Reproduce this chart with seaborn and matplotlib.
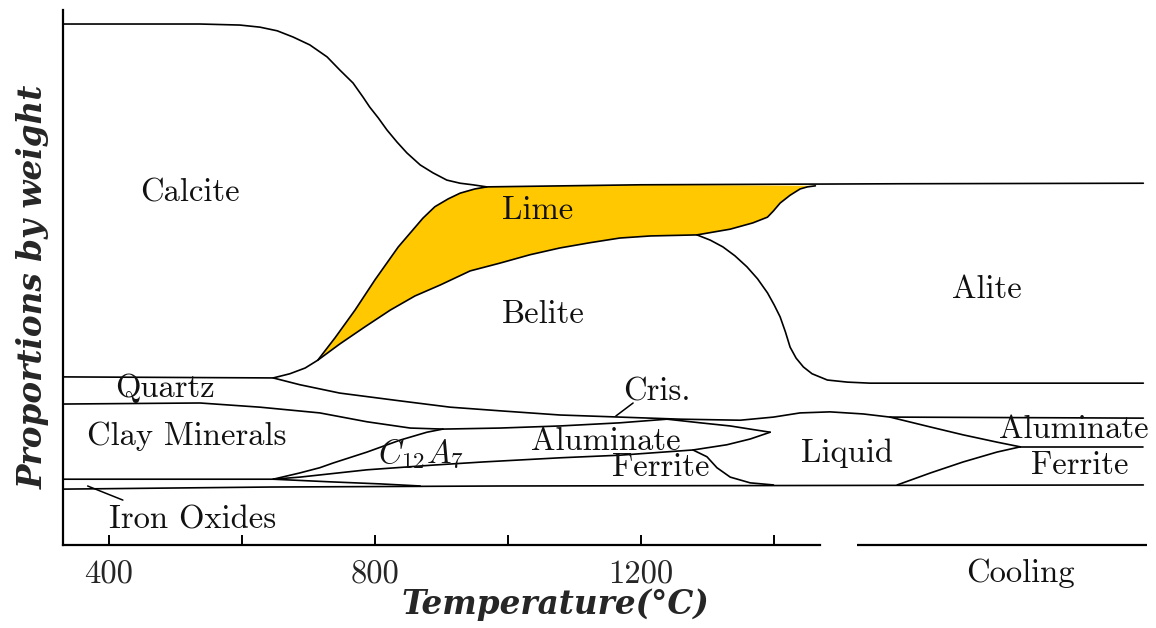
import numpy as np
import matplotlib
matplotlib.use("Agg")
import matplotlib.pyplot as plt
import seaborn as sns

# ---- phase boundaries: temperature (deg C, the cooling stage continues past 1500) vs. cumulative weight share (%) ----
calcite_top_T = [331, 537, 597, 627, 653, 677, 702, 728, 747, 767, 782, 792, 805, 818, 833, 848, 868, 887, 908, 928, 947, 968, 1199, 1589, 1955]
calcite_top_p = [99.8, 99.8, 99.6, 99.2, 98.5, 97.3, 95.8, 93.5, 91.0, 88.5, 85.8, 83.9, 81.8, 79.5, 77.2, 75.1, 72.8, 71.3, 69.9, 69.3, 69.0, 68.6, 69.0, 69.2, 69.3]

lime_outer_T = [647, 672, 695, 714, 740, 770, 800, 835, 872, 890, 910, 928, 950, 968]
lime_outer_p = [32.0, 32.8, 33.9, 35.4, 39.7, 45.0, 50.8, 57.1, 62.6, 64.8, 66.3, 67.4, 68.2, 68.6]

lime_inner_T = [714, 747, 785, 823, 860, 898, 943, 988, 1033, 1078, 1123, 1168, 1214, 1284, 1334, 1368, 1390, 1399, 1409, 1424, 1439, 1450, 1462]
lime_inner_p = [35.4, 38.5, 41.8, 45.0, 47.7, 49.8, 52.5, 54.0, 55.6, 56.9, 57.9, 58.8, 59.2, 59.4, 60.5, 61.7, 62.8, 64.0, 65.5, 67.0, 68.2, 68.6, 68.8]

alite_low_T = [1284, 1304, 1323, 1341, 1359, 1375, 1390, 1400, 1409, 1417, 1424, 1433, 1444, 1457, 1480, 1510, 1544, 1955]
alite_low_p = [59.4, 58.4, 57.1, 55.4, 53.3, 51.0, 48.3, 46.0, 43.7, 40.8, 37.9, 35.8, 34.1, 32.8, 31.6, 31.2, 31.0, 31.0]

quartz_top_T = [331, 647, 687, 747, 838, 913, 988, 1078, 1168, 1259, 1349, 1399, 1439, 1484, 1534, 1574, 1955]
quartz_top_p = [32.2, 32.0, 30.7, 29.1, 27.6, 26.4, 25.7, 24.9, 24.5, 24.1, 23.9, 24.5, 25.3, 25.5, 25.1, 24.5, 24.3]

liquid_top_T = [1574, 1635, 1684, 1735, 1770]
liquid_top_p = [24.5, 22.6, 21.1, 19.7, 18.8]

liquid_low_T = [1585, 1635, 1684, 1735, 1770]
liquid_low_p = [11.5, 13.8, 15.9, 17.8, 18.8]

alu_fer_T = [1770, 1955]
alu_fer_p = [18.8, 18.8]

clay_top_T = [331, 537, 627, 717, 788, 853, 902]
clay_top_p = [27.0, 27.2, 26.4, 25.3, 23.6, 22.4, 22.2]

alu_top_T = [902, 988, 1078, 1168, 1239, 1289, 1334, 1364, 1394]
alu_top_p = [22.2, 22.4, 22.8, 23.4, 24.1, 23.4, 22.8, 22.2, 21.6]

c12a7_top_T = [647, 687, 717, 737, 788, 838, 878, 902]
c12a7_top_p = [12.6, 13.8, 14.8, 15.7, 17.8, 20.1, 21.6, 22.2]

alu_low_T = [647, 687, 788, 887, 962, 1078, 1168, 1278, 1329, 1364, 1394]
alu_low_p = [12.6, 13.0, 14.4, 15.3, 15.9, 16.7, 17.2, 18.2, 19.2, 20.3, 21.6]

ferrite_top_T = [1278, 1299, 1314, 1334, 1364, 1399]
ferrite_top_p = [18.2, 16.9, 14.8, 13.0, 11.9, 11.5]

clay_low_T = [331, 647, 732, 808, 868]
clay_low_p = [12.6, 12.6, 12.1, 11.7, 11.3]

base_T = [331, 642, 988, 1955]
base_p = [10.7, 11.1, 11.3, 11.5]

tick_T = [400, 600, 800, 1000, 1200, 1400]
tick_text = ["400", "", "800", "", "1200", ""]

# ---- styling ----
sns.set_theme(style="white")
plt.rcParams["mathtext.fontset"] = "cm"
plt.rcParams["axes.unicode_minus"] = False
SERIF = "cmr10"
FS = 23.5

fig = plt.figure(figsize=(11.56, 6.28), dpi=100)
ax = fig.add_axes([0.0545, 0.1322, 0.9403, 0.852])
ax.set_xlim(331, 1965)
ax.set_ylim(0, 102.5)

# lime band
poly_T = lime_outer_T[3:] + [1199] + lime_inner_T[::-1]
poly_p = lime_outer_p[3:] + [69.0] + lime_inner_p[::-1]
ax.fill(poly_T, poly_p, color="#FFC800", lw=0, zorder=1)

boundaries = [
    (calcite_top_T, calcite_top_p), (lime_outer_T, lime_outer_p), (lime_inner_T, lime_inner_p),
    (alite_low_T, alite_low_p), (quartz_top_T, quartz_top_p), (liquid_top_T, liquid_top_p),
    (liquid_low_T, liquid_low_p), (alu_fer_T, alu_fer_p), (clay_top_T, clay_top_p),
    (alu_top_T, alu_top_p), (c12a7_top_T, c12a7_top_p), (alu_low_T, alu_low_p),
    (ferrite_top_T, ferrite_top_p), (clay_low_T, clay_low_p), (base_T, base_p),
]
for T, p in boundaries:
    sns.lineplot(x=T, y=p, sort=False, estimator=None, color="black", lw=1.2, ax=ax,
                 legend=False, zorder=3)
for ln in ax.lines:
    ln.set_solid_joinstyle("round")
    ln.set_solid_capstyle("round")

# phase names
def label(x, y, s, **kw):
    ax.text(x, y, s, ha="center", va="center", fontsize=FS, family=SERIF, color="#111111", zorder=4, **kw)

label(522, 67.4, "Calcite")
label(1045, 64.0, "Lime")
label(1053, 44.1, "Belite")
label(1720, 48.9, "Alite")
label(484, 30.0, "Quartz")
label(517, 20.9, "Clay Minerals")
label(1223, 29.3, "Cris.")
ax.text(869, 17.6, r"$C_{12}A_7$", ha="center", va="center", fontsize=FS, color="#111111", zorder=4)
label(1147, 19.9, "Aluminate")
label(1229, 14.9, "Ferrite")
label(1510, 17.6, "Liquid")
label(1850, 22.2, "Aluminate")
label(1860, 15.3, "Ferrite")
label(526, 4.8, "Iron Oxides")
ax.text(1770, -5.4, "Cooling", ha="center", va="center", fontsize=FS, family=SERIF,
        color="#111111", clip_on=False)

# pointer strokes for the thin bands
ax.plot([1188, 1162], [27.2, 24.7], color="black", lw=1.1)
ax.plot([368, 421], [11.3, 8.6], color="black", lw=1.1)

# axes frame
for s in ("top", "right"):
    ax.spines[s].set_visible(False)
for s in ("left", "bottom"):
    ax.spines[s].set_color("black")
    ax.spines[s].set_linewidth(1.6)
ax.spines["bottom"].set_bounds(331, 1469)
ax.plot([1525, 1961], [0, 0], color="black", lw=1.6, clip_on=False, solid_capstyle="butt")

ax.set_yticks([])
ax.set_xticks(tick_T)
ax.set_xticklabels(tick_text, fontsize=FS, family=SERIF)
ax.tick_params(axis="x", direction="in", length=7.5, width=1.4, color="black", pad=11, bottom=True)

ax.set_xlabel("Temperature(°C)", fontsize=23.5, family="DejaVu Serif", weight="bold", style="italic")
ax.xaxis.set_label_coords(0.4526, -0.080)
ax.set_ylabel("Proportions by weight", fontsize=23.5, family="DejaVu Serif", weight="bold", style="italic")
ax.yaxis.set_label_coords(-0.012, 0.482)

fig.savefig("out.png", dpi=100)
